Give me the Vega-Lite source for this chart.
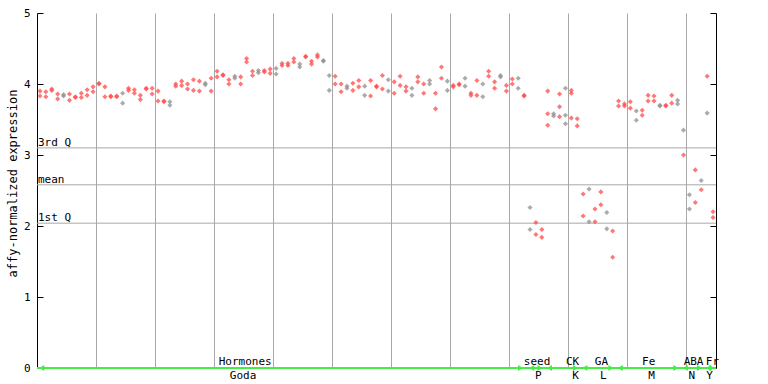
{
  "$schema": "https://vega.github.io/schema/vega-lite/v6.json",
  "width": 679,
  "height": 355,
  "autosize": {"type": "none"},
  "padding": {"left": 37, "top": 13, "right": 52, "bottom": 16},
  "config": {"view": {"stroke": null}, "font": "DejaVu Sans Mono"},
  "datasets": {
    "pts": [
      {"i":1,"v":3.90,"c":"r"},{"i":1,"v":3.83,"c":"r"},
      {"i":2,"v":3.89,"c":"r"},{"i":2,"v":3.82,"c":"r"},
      {"i":3,"v":3.93,"c":"r"},{"i":3,"v":3.91,"c":"r"},
      {"i":4,"v":3.86,"c":"r"},{"i":4,"v":3.79,"c":"r"},
      {"i":5,"v":3.85,"c":"g"},{"i":5,"v":3.83,"c":"g"},
      {"i":6,"v":3.86,"c":"r"},{"i":6,"v":3.77,"c":"r"},
      {"i":7,"v":3.82,"c":"r"},{"i":7,"v":3.81,"c":"r"},
      {"i":8,"v":3.87,"c":"r"},{"i":8,"v":3.81,"c":"r"},
      {"i":9,"v":3.92,"c":"r"},{"i":9,"v":3.84,"c":"r"},
      {"i":10,"v":3.96,"c":"r"},{"i":10,"v":3.89,"c":"r"},
      {"i":11,"v":4.01,"c":"r"},{"i":11,"v":4.00,"c":"r"},
      {"i":12,"v":3.96,"c":"r"},{"i":12,"v":3.82,"c":"r"},
      {"i":13,"v":3.83,"c":"r"},{"i":13,"v":3.82,"c":"r"},
      {"i":14,"v":3.83,"c":"r"},{"i":14,"v":3.82,"c":"r"},
      {"i":15,"v":3.87,"c":"g"},{"i":15,"v":3.73,"c":"g"},
      {"i":16,"v":3.94,"c":"r"},{"i":16,"v":3.91,"c":"r"},
      {"i":17,"v":3.92,"c":"r"},{"i":17,"v":3.87,"c":"r"},
      {"i":18,"v":3.84,"c":"r"},{"i":18,"v":3.78,"c":"r"},
      {"i":19,"v":3.94,"c":"r"},{"i":19,"v":3.93,"c":"r"},
      {"i":20,"v":3.94,"c":"r"},{"i":20,"v":3.86,"c":"r"},
      {"i":21,"v":3.90,"c":"r"},{"i":21,"v":3.76,"c":"r"},
      {"i":22,"v":3.76,"c":"r"},{"i":22,"v":3.75,"c":"r"},
      {"i":23,"v":3.75,"c":"g"},{"i":23,"v":3.70,"c":"g"},
      {"i":24,"v":4.00,"c":"r"},{"i":24,"v":3.97,"c":"r"},
      {"i":25,"v":4.04,"c":"r"},{"i":25,"v":3.98,"c":"r"},
      {"i":26,"v":4.00,"c":"r"},{"i":26,"v":3.93,"c":"r"},
      {"i":27,"v":4.06,"c":"r"},{"i":27,"v":3.91,"c":"r"},
      {"i":28,"v":4.04,"c":"r"},{"i":28,"v":3.90,"c":"r"},
      {"i":29,"v":4.01,"c":"g"},{"i":29,"v":3.99,"c":"g"},
      {"i":30,"v":4.08,"c":"r"},{"i":30,"v":3.90,"c":"r"},
      {"i":31,"v":4.18,"c":"r"},{"i":31,"v":4.10,"c":"r"},
      {"i":32,"v":4.13,"c":"r"},{"i":32,"v":4.12,"c":"r"},
      {"i":33,"v":4.06,"c":"r"},{"i":33,"v":4.00,"c":"r"},
      {"i":34,"v":4.11,"c":"g"},{"i":34,"v":4.08,"c":"g"},
      {"i":35,"v":4.10,"c":"r"},{"i":35,"v":4.00,"c":"r"},
      {"i":36,"v":4.36,"c":"r"},{"i":36,"v":4.31,"c":"r"},
      {"i":37,"v":4.18,"c":"r"},{"i":37,"v":4.12,"c":"r"},
      {"i":38,"v":4.19,"c":"g"},{"i":38,"v":4.16,"c":"g"},
      {"i":39,"v":4.19,"c":"r"},{"i":39,"v":4.17,"c":"r"},
      {"i":40,"v":4.21,"c":"r"},{"i":40,"v":4.15,"c":"r"},
      {"i":41,"v":4.22,"c":"g"},{"i":41,"v":4.14,"c":"g"},
      {"i":42,"v":4.29,"c":"r"},{"i":42,"v":4.26,"c":"r"},
      {"i":43,"v":4.29,"c":"r"},{"i":43,"v":4.26,"c":"r"},
      {"i":44,"v":4.36,"c":"r"},{"i":44,"v":4.31,"c":"r"},
      {"i":45,"v":4.28,"c":"g"},{"i":45,"v":4.24,"c":"g"},
      {"i":46,"v":4.39,"c":"r"},{"i":46,"v":4.38,"c":"r"},
      {"i":47,"v":4.32,"c":"r"},{"i":47,"v":4.28,"c":"r"},
      {"i":48,"v":4.41,"c":"r"},{"i":48,"v":4.38,"c":"r"},
      {"i":49,"v":4.33,"c":"g"},{"i":49,"v":4.32,"c":"g"},
      {"i":50,"v":4.12,"c":"g"},{"i":50,"v":3.91,"c":"g"},
      {"i":51,"v":4.11,"c":"r"},{"i":51,"v":4.00,"c":"r"},
      {"i":52,"v":4.00,"c":"r"},{"i":52,"v":3.89,"c":"r"},
      {"i":53,"v":3.97,"c":"g"},{"i":53,"v":3.94,"c":"g"},
      {"i":54,"v":4.01,"c":"r"},{"i":54,"v":3.91,"c":"r"},
      {"i":55,"v":4.05,"c":"r"},{"i":55,"v":3.96,"c":"r"},
      {"i":56,"v":3.97,"c":"g"},{"i":56,"v":3.84,"c":"g"},
      {"i":57,"v":4.05,"c":"r"},{"i":57,"v":3.83,"c":"r"},
      {"i":58,"v":3.97,"c":"r"},{"i":58,"v":3.96,"c":"r"},
      {"i":59,"v":4.12,"c":"r"},{"i":59,"v":3.93,"c":"r"},
      {"i":60,"v":4.06,"c":"g"},{"i":60,"v":3.90,"c":"g"},
      {"i":61,"v":4.03,"c":"r"},{"i":61,"v":3.87,"c":"r"},
      {"i":62,"v":4.11,"c":"r"},{"i":62,"v":3.98,"c":"r"},
      {"i":63,"v":3.96,"c":"r"},{"i":63,"v":3.90,"c":"r"},
      {"i":64,"v":3.94,"c":"g"},{"i":64,"v":3.84,"c":"g"},
      {"i":65,"v":4.10,"c":"r"},{"i":65,"v":4.03,"c":"r"},
      {"i":66,"v":4.00,"c":"r"},{"i":66,"v":3.87,"c":"r"},
      {"i":67,"v":4.05,"c":"g"},{"i":67,"v":4.00,"c":"g"},
      {"i":68,"v":3.87,"c":"r"},{"i":68,"v":3.65,"c":"r"},
      {"i":69,"v":4.24,"c":"r"},{"i":69,"v":4.08,"c":"r"},
      {"i":70,"v":4.04,"c":"g"},{"i":70,"v":3.91,"c":"g"},
      {"i":71,"v":3.98,"c":"r"},{"i":71,"v":3.96,"c":"r"},
      {"i":72,"v":4.00,"c":"r"},{"i":72,"v":3.99,"c":"r"},
      {"i":73,"v":4.08,"c":"g"},{"i":73,"v":3.97,"c":"g"},
      {"i":74,"v":3.87,"c":"r"},{"i":74,"v":3.84,"c":"r"},
      {"i":75,"v":4.05,"c":"r"},{"i":75,"v":3.84,"c":"r"},
      {"i":76,"v":4.00,"c":"g"},{"i":76,"v":3.82,"c":"g"},
      {"i":77,"v":4.18,"c":"r"},{"i":77,"v":4.11,"c":"r"},
      {"i":78,"v":4.03,"c":"r"},{"i":78,"v":3.94,"c":"r"},
      {"i":79,"v":4.12,"c":"g"},{"i":79,"v":4.10,"c":"g"},
      {"i":80,"v":3.98,"c":"r"},{"i":80,"v":3.90,"c":"r"},
      {"i":81,"v":4.07,"c":"r"},{"i":81,"v":4.00,"c":"r"},
      {"i":82,"v":4.08,"c":"g"},{"i":82,"v":3.94,"c":"g"},
      {"i":83,"v":3.84,"c":"r"},{"i":83,"v":3.83,"c":"r"},
      {"i":84,"v":2.26,"c":"g"},{"i":84,"v":1.95,"c":"g"},
      {"i":85,"v":2.05,"c":"r"},{"i":85,"v":1.88,"c":"r"},
      {"i":86,"v":1.95,"c":"r"},{"i":86,"v":1.84,"c":"r"},
      {"i":87,"v":3.90,"c":"r"},{"i":87,"v":3.58,"c":"r"},{"i":87,"v":3.42,"c":"r"},
      {"i":88,"v":3.58,"c":"g"},{"i":88,"v":3.55,"c":"g"},
      {"i":89,"v":3.86,"c":"r"},{"i":89,"v":3.68,"c":"r"},{"i":89,"v":3.54,"c":"r"},
      {"i":90,"v":3.94,"c":"g"},{"i":90,"v":3.56,"c":"g"},{"i":90,"v":3.44,"c":"g"},
      {"i":91,"v":3.91,"c":"r"},{"i":91,"v":3.87,"c":"r"},{"i":91,"v":3.52,"c":"r"},
      {"i":92,"v":3.51,"c":"r"},{"i":92,"v":3.41,"c":"r"},
      {"i":93,"v":2.45,"c":"r"},{"i":93,"v":2.14,"c":"r"},
      {"i":94,"v":2.52,"c":"g"},{"i":94,"v":2.06,"c":"g"},
      {"i":95,"v":2.24,"c":"r"},{"i":95,"v":2.06,"c":"r"},
      {"i":96,"v":2.48,"c":"r"},{"i":96,"v":2.30,"c":"r"},
      {"i":97,"v":2.19,"c":"g"},{"i":97,"v":1.96,"c":"g"},
      {"i":98,"v":1.93,"c":"r"},{"i":98,"v":1.56,"c":"r"},
      {"i":99,"v":3.76,"c":"r"},{"i":99,"v":3.69,"c":"r"},
      {"i":100,"v":3.72,"c":"r"},{"i":100,"v":3.69,"c":"r"},
      {"i":101,"v":3.75,"c":"r"},{"i":101,"v":3.66,"c":"r"},
      {"i":102,"v":3.62,"c":"g"},{"i":102,"v":3.49,"c":"g"},
      {"i":103,"v":3.63,"c":"r"},{"i":103,"v":3.56,"c":"r"},
      {"i":104,"v":3.84,"c":"r"},{"i":104,"v":3.76,"c":"r"},
      {"i":105,"v":3.83,"c":"r"},{"i":105,"v":3.76,"c":"r"},
      {"i":106,"v":3.70,"c":"g"},{"i":106,"v":3.69,"c":"g"},
      {"i":107,"v":3.70,"c":"r"},{"i":107,"v":3.69,"c":"r"},
      {"i":108,"v":3.84,"c":"r"},{"i":108,"v":3.73,"c":"r"},
      {"i":109,"v":3.77,"c":"g"},{"i":109,"v":3.72,"c":"g"},
      {"i":110,"v":3.35,"c":"g"},{"i":110,"v":3.00,"c":"r"},
      {"i":111,"v":2.44,"c":"g"},{"i":111,"v":2.24,"c":"g"},
      {"i":112,"v":2.79,"c":"r"},{"i":112,"v":2.33,"c":"r"},
      {"i":113,"v":2.64,"c":"g"},{"i":113,"v":2.51,"c":"r"},
      {"i":114,"v":4.11,"c":"r"},{"i":114,"v":3.59,"c":"g"},
      {"i":115,"v":2.20,"c":"r"},{"i":115,"v":2.12,"c":"r"}
    ],
    "refs": [
      {"v": 3.10, "t": "3rd Q"},
      {"v": 2.58, "t": "mean"},
      {"v": 2.04, "t": "1st Q"}
    ],
    "arrows": [
      {"i": 1.3, "d": "L"}, {"i": 82.4, "d": "R"},
      {"i": 84.3, "d": "L"}, {"i": 85.7, "d": "R"},
      {"i": 87.3, "d": "L"}, {"i": 91.7, "d": "R"},
      {"i": 93.3, "d": "L"}, {"i": 97.7, "d": "R"},
      {"i": 99.3, "d": "L"}, {"i": 108.7, "d": "R"},
      {"i": 110.3, "d": "L"}, {"i": 112.7, "d": "R"},
      {"i": 114.2, "d": "L"}, {"i": 114.8, "d": "R"}
    ],
    "groups": [
      {"i": 35.75, "t": "Hormones", "row": 1},
      {"i": 85.2, "t": "seed", "row": 1},
      {"i": 91.2, "t": "CK", "row": 1},
      {"i": 96.1, "t": "GA", "row": 1},
      {"i": 104.1, "t": "Fe", "row": 1},
      {"i": 111.7, "t": "ABA", "row": 1},
      {"i": 114.9, "t": "Fr", "row": 1},
      {"i": 35.4, "t": "Goda", "row": 2},
      {"i": 85.4, "t": "P", "row": 2},
      {"i": 91.7, "t": "K", "row": 2},
      {"i": 96.4, "t": "L", "row": 2},
      {"i": 104.6, "t": "M", "row": 2},
      {"i": 111.4, "t": "N", "row": 2},
      {"i": 114.4, "t": "Y", "row": 2}
    ]
  },
  "layer": [
    {
      "data": {"name": "refs"},
      "mark": {"type": "rule", "color": "#a8a8a8", "strokeWidth": 1},
      "encoding": {
        "y": {
          "field": "v", "type": "quantitative",
          "scale": {"domain": [0, 5], "nice": false, "zero": false},
          "axis": {
            "orient": "right", "labels": false, "title": null, "grid": false,
            "values": [0, 1, 2, 3, 4, 5], "tickSize": -6, "tickColor": "black",
            "domainColor": "black", "domainWidth": 1, "tickWidth": 1
          }
        }
      }
    },
    {
      "data": {"name": "pts"},
      "mark": {"type": "point", "shape": "diamond", "filled": true, "size": 26, "opacity": 0.75},
      "encoding": {
        "x": {
          "field": "i", "type": "quantitative",
          "scale": {"domain": [0.5, 115.5], "nice": false, "zero": false},
          "axis": {
            "values": [10.5, 20.5, 30.5, 40.5, 50.5, 60.5, 70.5, 80.5, 90.5, 100.5, 110.5],
            "grid": true, "gridColor": "#a8a8a8", "gridOpacity": 1, "gridWidth": 1,
            "labels": false, "ticks": false, "domain": false, "title": null
          }
        },
        "y": {
          "field": "v", "type": "quantitative",
          "scale": {"domain": [0, 5], "nice": false, "zero": false},
          "axis": {
            "orient": "left", "values": [0, 1, 2, 3, 4, 5], "grid": false,
            "tickSize": -6, "tickColor": "black", "domainColor": "black",
            "labelFont": "DejaVu Sans Mono", "labelFontSize": 11, "labelColor": "black",
            "labelPadding": 13,
            "title": "affy-normalized expression", "titleFont": "DejaVu Sans Mono",
            "titleFontSize": 12, "titleFontWeight": "normal", "titleColor": "black",
            "titleX": -25, "titleY": 170, "titleAngle": -90, "titleAlign": "center",
            "titleBaseline": "middle"
          }
        },
        "color": {
          "field": "c", "type": "nominal",
          "scale": {"domain": ["r", "g"], "range": ["#ff4a4a", "#8f8f8f"]},
          "legend": null
        }
      }
    },
    {
      "data": {"name": "refs"},
      "mark": {"type": "text", "align": "left", "baseline": "alphabetic", "dx": 1, "dy": -2, "fontSize": 11, "font": "DejaVu Sans Mono", "color": "black"},
      "encoding": {
        "x": {"datum": 0.5, "type": "quantitative"},
        "y": {"field": "v", "type": "quantitative", "axis": null},
        "text": {"field": "t"}
      }
    },
    {
      "data": {"values": [{}]},
      "mark": {"type": "rule", "color": "#44ee44", "strokeWidth": 2},
      "encoding": {
        "y": {"datum": 0, "type": "quantitative", "axis": null}
      }
    },
    {
      "data": {"name": "arrows"},
      "transform": [{"filter": "datum.d == 'L'"}],
      "mark": {"type": "point", "shape": "triangle-left", "filled": true, "size": 34, "color": "#44ee44", "opacity": 1},
      "encoding": {
        "x": {"field": "i", "type": "quantitative"},
        "y": {"datum": 0, "type": "quantitative", "axis": null}
      }
    },
    {
      "data": {"name": "arrows"},
      "transform": [{"filter": "datum.d == 'R'"}],
      "mark": {"type": "point", "shape": "triangle-right", "filled": true, "size": 34, "color": "#44ee44", "opacity": 1},
      "encoding": {
        "x": {"field": "i", "type": "quantitative"},
        "y": {"datum": 0, "type": "quantitative", "axis": null}
      }
    },
    {
      "data": {"name": "groups"},
      "transform": [{"filter": "datum.row == 1"}],
      "mark": {"type": "text", "align": "center", "baseline": "alphabetic", "dy": -3, "fontSize": 11, "font": "DejaVu Sans Mono", "color": "black"},
      "encoding": {
        "x": {"field": "i", "type": "quantitative"},
        "y": {"datum": 0, "type": "quantitative", "axis": null},
        "text": {"field": "t"}
      }
    },
    {
      "data": {"name": "groups"},
      "transform": [{"filter": "datum.row == 2"}],
      "mark": {"type": "text", "align": "center", "baseline": "alphabetic", "dy": 11, "fontSize": 11, "font": "DejaVu Sans Mono", "color": "black"},
      "encoding": {
        "x": {"field": "i", "type": "quantitative"},
        "y": {"datum": 0, "type": "quantitative", "axis": null},
        "text": {"field": "t"}
      }
    }
  ],
  "resolve": {"axis": {"y": "independent"}}
}
